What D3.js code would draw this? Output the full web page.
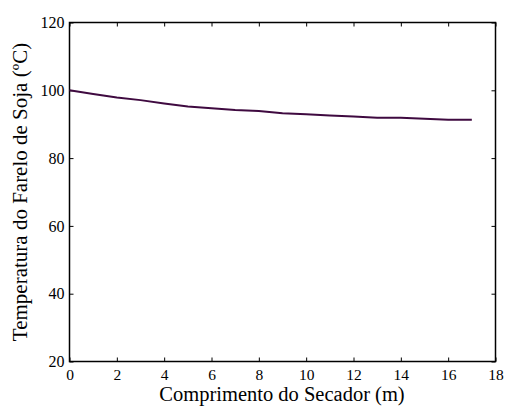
<!DOCTYPE html>
<html>
  <head>
    <meta charset="utf-8" />
    <script src="https://d3js.org/d3.v7.min.js"></script>
    <style>
      body { margin: 0; background: #fff; }
      text { font-family: "Liberation Serif", "Times New Roman", serif; fill: #000; }
    </style>
  </head>
  <body>
    <svg id="viz"></svg>
    <script>
      var comprimento = [0, 1, 2, 3, 4, 5, 6, 7, 8, 9, 10, 11, 12, 13, 14, 15, 16, 17];
      var temperatura = [100, 98.9, 97.9, 97.1, 96.1, 95.2, 94.7, 94.2, 93.9, 93.2, 92.9, 92.6, 92.3, 91.9, 91.9, 91.6, 91.3, 91.3];
      var xTicks = [0, 2, 4, 6, 8, 10, 12, 14, 16, 18];
      var yTicks = [20, 40, 60, 80, 100, 120];

      var width = 505, height = 406;
      var m = {left: 69.5, right: 495.5, top: 22.5, bottom: 361.5};

      var svg = d3.select("#viz").attr("width", width).attr("height", height);

      var x = d3.scaleLinear().domain([0, 18]).range([m.left, m.right]);
      var y = d3.scaleLinear().domain([20, 120]).range([m.bottom, m.top]);

      // bottom axis with labels, ticks pointing inward
      svg.append("g")
          .attr("transform", "translate(0," + m.bottom + ")")
          .call(d3.axisBottom(x).tickValues(xTicks).tickSize(-4).tickPadding(7))
          .call(function(g) {
            g.select(".domain").remove();
            g.selectAll("text").attr("font-size", 15.5).attr("font-family", "Liberation Serif");
          });
      svg.append("g")
          .attr("transform", "translate(0," + m.top + ")")
          .call(d3.axisTop(x).tickValues(xTicks).tickSize(-4).tickFormat(""))
          .call(function(g) { g.select(".domain").remove(); });

      svg.append("g")
          .attr("transform", "translate(" + m.left + ",0)")
          .call(d3.axisLeft(y).tickValues(yTicks).tickSize(-4).tickPadding(5))
          .call(function(g) {
            g.select(".domain").remove();
            g.selectAll("text").attr("font-size", 16).attr("font-family", "Liberation Serif");
          });
      svg.append("g")
          .attr("transform", "translate(" + m.right + ",0)")
          .call(d3.axisRight(y).tickValues(yTicks).tickSize(-4).tickFormat(""))
          .call(function(g) { g.select(".domain").remove(); });

      svg.append("rect")
          .attr("x", m.left).attr("y", m.top)
          .attr("width", m.right - m.left).attr("height", m.bottom - m.top)
          .attr("fill", "none").attr("stroke", "#000").attr("stroke-width", 1.5);

      var line = d3.line()
          .x(function(d, i) { return x(comprimento[i]); })
          .y(function(d) { return y(d); });

      svg.append("path")
          .datum(temperatura)
          .attr("d", line)
          .attr("fill", "none")
          .attr("stroke", "#3f0a40")
          .attr("stroke-width", 2);

      svg.append("text")
          .attr("x", 282).attr("y", 401)
          .attr("text-anchor", "middle").attr("font-size", 20.5)
          .text("Comprimento do Secador (m)");

      svg.append("text")
          .attr("transform", "translate(27," + ((m.top + m.bottom) / 2) + ") rotate(-90)")
          .attr("text-anchor", "middle").attr("font-size", 21)
          .text("Temperatura do Farelo de Soja (ºC)");
    </script>
  </body>
</html>
